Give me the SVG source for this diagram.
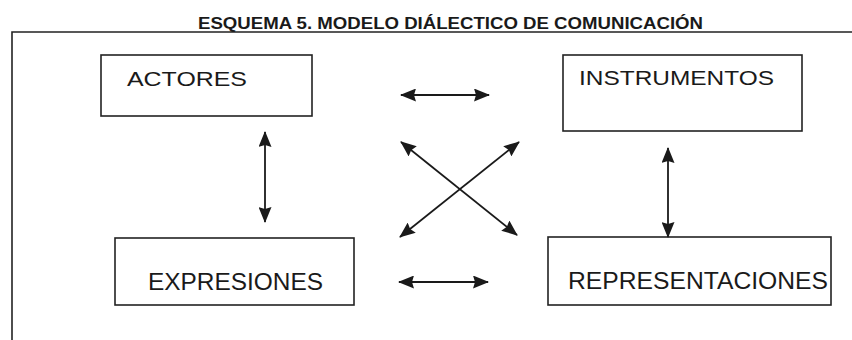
<svg xmlns="http://www.w3.org/2000/svg" width="852" height="340" viewBox="0 0 852 340">
<style>
.box{fill:#fff;stroke:#222;stroke-width:1.6}
.lbl{font-family:"Liberation Sans",Arial,sans-serif;fill:#1a1a1a}
.con{stroke:#1a1a1a;stroke-width:1.8;fill:none;marker-start:url(#ah);marker-end:url(#ah)}
.frame{stroke:#222;stroke-width:1.6;fill:none}
</style>
<defs>
<marker id="ah" markerUnits="userSpaceOnUse" markerWidth="16" markerHeight="13" refX="15" refY="6.5" orient="auto-start-reverse" viewBox="0 0 16 13">
<path d="M0,0 L16,6.5 L0,13 L2,6.5 z" fill="#1a1a1a"/>
</marker>
</defs>
<rect width="852" height="340" fill="#fff"/>
<g id="title">
<text x="198" y="29" class="lbl" font-size="17" font-weight="bold" textLength="505" lengthAdjust="spacingAndGlyphs">ESQUEMA 5. MODELO DIÁLECTICO DE COMUNICACIÓN</text>
</g>
<g id="frame">
<path class="frame" d="M12,340 L12,32 L852,32"/>
</g>
<g id="actores">
<rect class="box" x="101" y="55" width="211" height="61"/>
<text class="lbl" x="127" y="86" font-size="21" textLength="120" lengthAdjust="spacingAndGlyphs">ACTORES</text>
</g>
<g id="instrumentos">
<rect class="box" x="563" y="55" width="239" height="76"/>
<text class="lbl" x="579" y="85" font-size="21" textLength="195" lengthAdjust="spacingAndGlyphs">INSTRUMENTOS</text>
</g>
<g id="expresiones">
<rect class="box" x="115" y="238" width="239" height="67"/>
<text class="lbl" x="148" y="290" font-size="23" textLength="175" lengthAdjust="spacingAndGlyphs">EXPRESIONES</text>
</g>
<g id="representaciones">
<rect class="box" x="548" y="237" width="283" height="68"/>
<text class="lbl" x="568" y="289" font-size="23" textLength="260" lengthAdjust="spacingAndGlyphs">REPRESENTACIONES</text>
</g>
<g id="connectors">
<line class="con" x1="401" y1="95" x2="489" y2="95"/>
<line class="con" x1="399" y1="282" x2="488" y2="282"/>
<line class="con" x1="265" y1="132" x2="265" y2="222"/>
<line class="con" x1="668" y1="148" x2="668" y2="237"/>
<line class="con" x1="401" y1="142" x2="517" y2="235"/>
<line class="con" x1="400" y1="237" x2="519" y2="142"/>
</g>
</svg>
